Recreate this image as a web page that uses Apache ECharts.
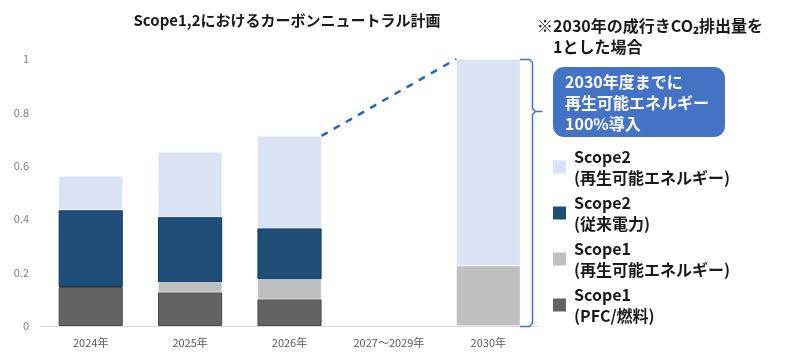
<!DOCTYPE html>
<html><head><meta charset="utf-8">
<script src="https://cdn.jsdelivr.net/npm/echarts@6/dist/echarts.min.js"></script>
<style>html,body{margin:0;padding:0;background:#fff}#c{width:800px;height:362px}</style>
</head><body><div id="c"></div>
<script>
const categories = ['2024年', '2025年', '2026年', '2027～2029年', '2030年'];
const scope1Pfc   = [0.146, 0.126, 0.100, null, null];
const scope1Renew = [null,  0.038, 0.075, null, 0.226];
const scope2Conv  = [0.288, 0.244, 0.191, null, null];
const scope2Renew = [0.128, 0.244, 0.346, null, 0.774];
const seriesNames = ['Scope2\n(再生可能エネルギー)', 'Scope2\n(従来電力)', 'Scope1\n(再生可能エネルギー)', 'Scope1\n(PFC/燃料)'];
const titleText = 'Scope1,2におけるカーボンニュートラル計画';
const noteText = '※2030年の成行きCO₂排出量を\n　1とした場合';
const boxText = '2030年度までに\n再生可能エネルギー\n100%導入';
const yTicks = [0, 0.2, 0.4, 0.6, 0.8, 1];

const FONT = '"Noto Sans CJK JP", "Noto Sans", sans-serif';
const totals = categories.map((_, i) => (scope1Pfc[i] || 0) + (scope1Renew[i] || 0) + (scope2Conv[i] || 0) + (scope2Renew[i] || 0));
const barFrac = 0.645;
const half = barFrac / 2;
const fromIdx = 2, toIdx = 4;
const linkData = [[fromIdx + half, totals[fromIdx]], [toIdx - half, totals[toIdx]]];

const chart = echarts.init(document.getElementById('c'), null, {renderer: 'canvas'});
const grid = {left: 41, right: 262, top: 59, bottom: 36};
const option = {
  animation: false,
  textStyle: {fontFamily: FONT},
  grid: grid,
  xAxis: [{
    type: 'category', data: categories,
    axisLine: {lineStyle: {color: '#d9d9d9', width: 1}},
    axisTick: {show: false},
    axisLabel: {color: '#595959', fontSize: 11, margin: 11, fontFamily: FONT}
  }, {
    type: 'value', min: -0.5, max: categories.length - 0.5, show: false
  }],
  yAxis: {
    type: 'value', min: yTicks[0], max: yTicks[yTicks.length - 1], interval: 0.2,
    axisLine: {show: false}, axisTick: {show: false}, splitLine: {show: false},
    axisLabel: {color: '#7f7f7f', fontSize: 11, margin: 12, fontFamily: FONT}
  },
  legend: {
    orient: 'vertical', left: 548, top: 141,
    data: seriesNames, icon: 'rect', itemWidth: 13, itemHeight: 13, itemGap: 4,
    selectedMode: false,
    itemStyle: {borderWidth: 0},
    textStyle: {fontSize: 16, fontWeight: 'bold', color: '#1a1a1a', lineHeight: 21, fontFamily: FONT, padding: [0, 0, 0, 3]}
  },
  series: [
    {name: seriesNames[3], type: 'bar', stack: 's', data: scope1Pfc, barWidth: (barFrac * 100) + '%',
     itemStyle: {color: '#636363', borderColor: '#4a4a4a', borderWidth: 1}},
    {name: seriesNames[2], type: 'bar', stack: 's', data: scope1Renew,
     itemStyle: {color: '#bfbfbf', borderColor: '#fff', borderWidth: 0.5}},
    {name: seriesNames[1], type: 'bar', stack: 's', data: scope2Conv,
     itemStyle: {color: '#1f4e79', borderColor: '#0e3564', borderWidth: 1}},
    {name: seriesNames[0], type: 'bar', stack: 's', data: scope2Renew,
     itemStyle: {color: '#dae3f3', borderColor: '#fff', borderWidth: 0.5}},
    {name: 'link', type: 'line', xAxisIndex: 1, data: linkData, symbol: 'none', silent: true,
     lineStyle: {color: '#2363c8', width: 2.5, type: [7, 7]}, z: 5}
  ]
};
chart.setOption(option);

// annotations derived from the axes
const top2030 = chart.convertToPixel({xAxisIndex: 1, yAxisIndex: 0}, [toIdx + half, totals[toIdx]]);
const base2030 = chart.convertToPixel({xAxisIndex: 1, yAxisIndex: 0}, [toIdx + half, 0]);
const bx = Math.round(top2030[0]) + 12.5;
const x0 = Math.round(top2030[0]);
const y0 = Math.round(top2030[1]) + 0.5, y1 = Math.round(base2030[1]) + 0.5;
const tipY = 111.5;
chart.setOption({
  graphic: [
    {type: 'text', x: 287, y: 13, style: {text: titleText, font: 'bold 15px ' + FONT, fill: '#1a1a1a', textAlign: 'center'}, z: 10},
    {type: 'text', x: 537, y: 15, style: {text: noteText, font: 'bold 16px ' + FONT, fill: '#1a1a1a', lineHeight: 21}, z: 10},
    {type: 'rect', shape: {x: 553, y: 67, width: 172, height: 70, r: 11}, style: {fill: '#4472c4'}, z: 10},
    {type: 'text', x: 565, y: 71, style: {text: boxText, font: 'bold 16px ' + FONT, fill: '#ffffff', lineHeight: 21}, z: 11},
    {type: 'polyline', shape: {points: [
        [x0, y0], [bx - 3, y0], [bx, y0 + 3], [bx, tipY - 3], [bx + 3, tipY], [bx + 10, tipY]
      ]}, style: {stroke: '#4472c4', lineWidth: 1.5, fill: null}, z: 10},
    {type: 'polyline', shape: {points: [
        [bx + 3, tipY], [bx, tipY + 3], [bx, y1 - 3], [bx - 3, y1], [x0, y1]
      ]}, style: {stroke: '#4472c4', lineWidth: 1.5, fill: null}, z: 10}
  ]
});
</script></body></html>
